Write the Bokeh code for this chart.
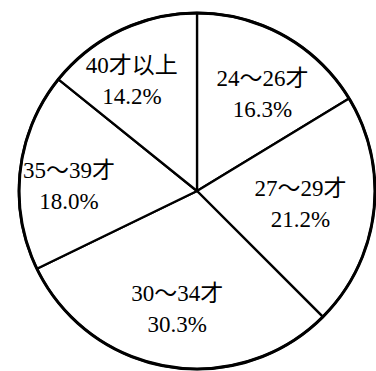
import math
from bokeh.plotting import figure
from bokeh.models import Range1d, ColumnDataSource
from bokeh.core.properties import value
from bokeh.embed import file_html
from bokeh.resources import INLINE

# ---- data ----
categories = ["24～26才", "27～29才", "30～34才", "35～39才", "40才以上"]
shares = [16.3, 21.2, 30.3, 18.0, 14.2]

# ---- layout ----
W, H = 376, 371
cx, cy = 196.5, 190.5      # pie centre in canvas pixels (from top-left)
R = 178.0
label_frac = [0.66, 0.585, 0.67, 0.72, 0.72]  # radial position of each label
label_turn = [-4.5, 0, 0, 4, 5]                # small angular nudge (degrees)

total = sum(shares)
starts, ends, mids = [], [], []
a = math.pi / 2
for s in shares:
    span = 2 * math.pi * s / total
    starts.append(a)
    ends.append(a - span)
    mids.append(a - span / 2)
    a -= span

lx = [R * f * math.cos(m + math.radians(t)) for m, f, t in zip(mids, label_frac, label_turn)]
ly = [R * f * math.sin(m + math.radians(t)) for m, f, t in zip(mids, label_frac, label_turn)]
pct = [f"{v:.1f}%" for v in shares]

src = ColumnDataSource(dict(start=starts, end=ends, lx=lx, ly=ly,
                            cat=categories, pct=pct))

p = figure(width=W, height=H, output_backend="svg", toolbar_location=None,
           x_range=Range1d(-cx, W - cx), y_range=Range1d(-(H - cy), cy),
           min_border=0, outline_line_color=None)
p.axis.visible = False
p.grid.visible = False
p.background_fill_color = "white"
p.border_fill_color = "white"

p.wedge(x=0, y=0, radius=R, start_angle="start", end_angle="end",
        direction="clock", source=src, fill_color="white",
        line_color="black", line_width=2.3)
p.arc(x=0, y=0, radius=R, start_angle=0, end_angle=2 * math.pi,
      line_color="black", line_width=3)

font = value("'Liberation Serif', 'Noto Sans CJK SC'")
p.text(x="lx", y="ly", text="cat", source=src, text_font=font,
       text_font_size="23px", text_align="center", text_baseline="middle",
       y_offset=-15, text_color="black")
p.text(x="lx", y="ly", text="pct", source=src, text_font=font,
       text_font_size="23px", text_align="center", text_baseline="middle",
       y_offset=16, text_color="black")

open("out.html", "w").write(file_html(p, INLINE))
